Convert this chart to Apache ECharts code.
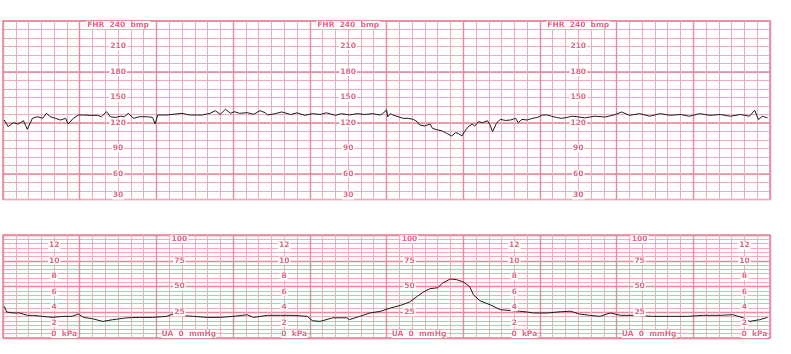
<!DOCTYPE html>
<html><head><meta charset="utf-8">
<script src="https://cdn.jsdelivr.net/npm/echarts@6/dist/echarts.min.js"></script>
<style>html,body{margin:0;padding:0;background:#fff}#c{width:791px;height:354px}</style>
</head><body><div id="c"></div>
<script>
// ---- data ----
const fhrTime = [1,4,8,12,16,19,23,27,31,34,37,41,45,49,51,55,59,63,68,74,77,81,84,88,92,95,98,102,107,113,117,119,121,128,133,140,146,152,156,162,166,170,174,178,181,185,191,196,201,205,207,
213,218,225,230,236,242,248,253,260,265,271,277,283,289,
295,297,300,301,303,305,309,313,317,321,324,326,330,334,336,340,343,347,351,354,356,359,361,364,367,369,372,375,379,381,383,386,389,393,397,401,403,406,410,414,418,422,426,429,433,437,441,445,449,
455,463,471,479,484,490,498,506,514,522,530,537,545,553,561,569,577,584,588,591,594,598];
const fhrValue = [123.5,115.7,120.4,118.8,122.7,112.6,125.5,127.4,125.5,131.4,127.4,125.5,123.5,125.5,118.8,125.5,129.4,129.4,129,129,127.4,133.3,127.4,126.5,128,127.4,131.4,125.5,127.4,127.4,126.5,118.8,129.4,129.4,130.2,131.4,129.4,129.4,129.4,131.4,134.5,130.2,136.1,131.4,133.3,131.4,132.2,130.2,134.5,132.2,129.4,
131,133,130,132,129,131,130,132,129,131,129.5,131,130,131,
129.4,131,135.3,127.4,131,129.4,127.4,125.5,125.5,124.3,121.5,117.6,116.5,118.8,113.7,111.8,111,107.9,104.7,108.7,107.9,104.7,109.8,115.7,118.8,116.5,121.5,120.4,122.7,117.6,109.8,119.6,124.3,123,123.5,125.5,120.4,124.3,123.5,125.5,126.5,129.4,129.4,128,126.5,125.5,126.5,128,127.4,
126,128,127,130,133,129,131,128,131,129,130,128,131,129,130,128,130,128,135,124,128,126];
const uaTime = [1,3,8,13,19,23,31,39,47,54,59,63,70,78,86,97,107,117,128,133,138,149,160,170,180,191,196,207,217,227,238,242,248,258,269,271,279,287,295,303,311,318,324,329,334,340,344,350,355,360,365,368,373,381,389,399,404,410,415,426,436,444,451,459,467,475,483,496,508,522,535,548,561,571,579,584,592,598];
const uaValue = [30.7,25.2,24.3,24.3,22,22,21,20,21,21,23.3,20,18.7,16.1,17.8,19.6,20,20,21,23.3,22,21,20,20,21,22.6,20,22,22,22,21,16.8,16.1,19.6,19.6,17.8,21,24.3,25.8,29.1,31.7,34.9,40.4,44.7,47.9,48.8,53.4,57.3,56.6,54.4,50.1,42,36.2,32.3,27.5,26.5,26,25.2,24.3,24.3,25.5,26,23.3,22,21,24.3,22,22,21,21,21,22,22,22.6,19.6,16.1,17.8,20];
const fhrLabelCols = [90, 270, 450];      // seconds
const kpaLabelCols = [40, 220, 400, 580]; // seconds
const mmhgLabelCols = [138, 318, 498];    // seconds
const timeRange = [0, 600];
const fhrRange = [30, 240];
const uaRange = [0, 100];
const KPA_PER_MMHG = 0.133322;

// ---- style / layout ----
const THIN = '#f2abba', THICK = '#e7889c', LBL = '#de6a85';
const GL = 3, GW = 767;
const G0 = {top: 21, height: 178.5}, G1 = {top: 235, height: 103};
const font = {fontFamily: 'DejaVu Sans', fontSize: 7.5, fontWeight: 'bold', color: LBL};
const colOffset = t => -(t - timeRange[0]) / (timeRange[1] - timeRange[0]) * GW;
const st = o => Object.assign({}, font, o);
const richStyles = {
  n: st({backgroundColor: '#fff', padding: [0, 1]}),
  e: st({width: 20}),
  s: st({width: 19}),
  z: st({backgroundColor: '#fff'})
};

const xAxisBase = gi => ({
  type: 'value', gridIndex: gi, min: timeRange[0], max: timeRange[1], interval: 60,
  axisLabel: {show: false}, axisTick: {show: false}, axisLine: {show: false},
  splitLine: {show: true, lineStyle: {color: THICK, width: 1.4}},
  minorTick: {show: false, splitNumber: 6},
  minorSplitLine: {show: true, lineStyle: {color: THIN, width: 1}}
});

const labelAxis = (gi, t, range, interval, fmt, hideMax) => ({
  type: 'value', gridIndex: gi, position: 'left', offset: colOffset(t),
  min: range[0], max: range[1], interval: interval, z: 5,
  axisLine: {show: false, onZero: false}, axisTick: {show: false}, splitLine: {show: false},
  axisLabel: st({
    show: true, margin: 0, align: 'center', formatter: fmt,
    showMaxLabel: !hideMax,
    verticalAlignMaxLabel: 'top', verticalAlignMinLabel: 'bottom',
    rich: richStyles
  })
});

const yAxes = [
  {type: 'value', gridIndex: 0, min: fhrRange[0], max: fhrRange[1], interval: 10,
   axisLabel: {show: false}, axisTick: {show: false}, axisLine: {show: false},
   splitLine: {show: true, lineStyle: {color: THIN, width: 1}}},
  {type: 'value', gridIndex: 0, min: fhrRange[0], max: fhrRange[1], interval: 30,
   axisLabel: {show: false}, axisTick: {show: false}, axisLine: {show: false},
   splitLine: {show: true, lineStyle: {color: ['rgba(0,0,0,0)', THICK], width: 1.6}}}
];
fhrLabelCols.forEach(t => yAxes.push(labelAxis(0, t, fhrRange, 30,
  v => v === fhrRange[1] ? '{n|FHR  ' + v + '  bmp}' : '{n|' + v + '}')));
const uaMainIndex = yAxes.length;
yAxes.push({type: 'value', gridIndex: 1, min: uaRange[0], max: uaRange[1], interval: 25,
  axisLabel: {show: false}, axisTick: {show: false}, axisLine: {show: false},
  splitLine: {show: true, lineStyle: {color: THICK, width: 1.4}},
  minorTick: {show: false, splitNumber: 6},
  minorSplitLine: {show: true, lineStyle: {color: THIN, width: 1}}});
kpaLabelCols.forEach(t => yAxes.push(labelAxis(1, t, [0, uaRange[1] * KPA_PER_MMHG], 2,
  v => v === 0 ? '{e|}{z|0  kPa}' : '{n|' + v + '}', true)));
mmhgLabelCols.forEach(t => yAxes.push(labelAxis(1, t, uaRange, 25,
  v => v === 0 ? '{s|}{z|UA  0  mmHg}' : '{n|' + v + '}')));

const chart = echarts.init(document.getElementById('c'), null, {renderer: 'canvas'});
chart.setOption({
  animation: false,
  backgroundColor: '#fff',
  grid: [
    {left: GL, width: GW, top: G0.top, height: G0.height, show: true, borderColor: THICK, borderWidth: 1.5, backgroundColor: 'transparent', containLabel: false},
    {left: GL, width: GW, top: G1.top, height: G1.height, show: true, borderColor: THICK, borderWidth: 1.5, backgroundColor: 'transparent', containLabel: false}
  ],
  xAxis: [xAxisBase(0), xAxisBase(1)],
  yAxis: yAxes,
  series: [
    {type: 'line', xAxisIndex: 0, yAxisIndex: 0, data: fhrTime.map((t, i) => [t, fhrValue[i]]),
     showSymbol: false, z: 3, lineStyle: {color: '#1c1c1c', width: 1}},
    {type: 'line', xAxisIndex: 1, yAxisIndex: uaMainIndex, data: uaTime.map((t, i) => [t, uaValue[i]]),
     showSymbol: false, z: 3, lineStyle: {color: '#1c1c1c', width: 1}}
  ]
});
</script>
</body></html>
